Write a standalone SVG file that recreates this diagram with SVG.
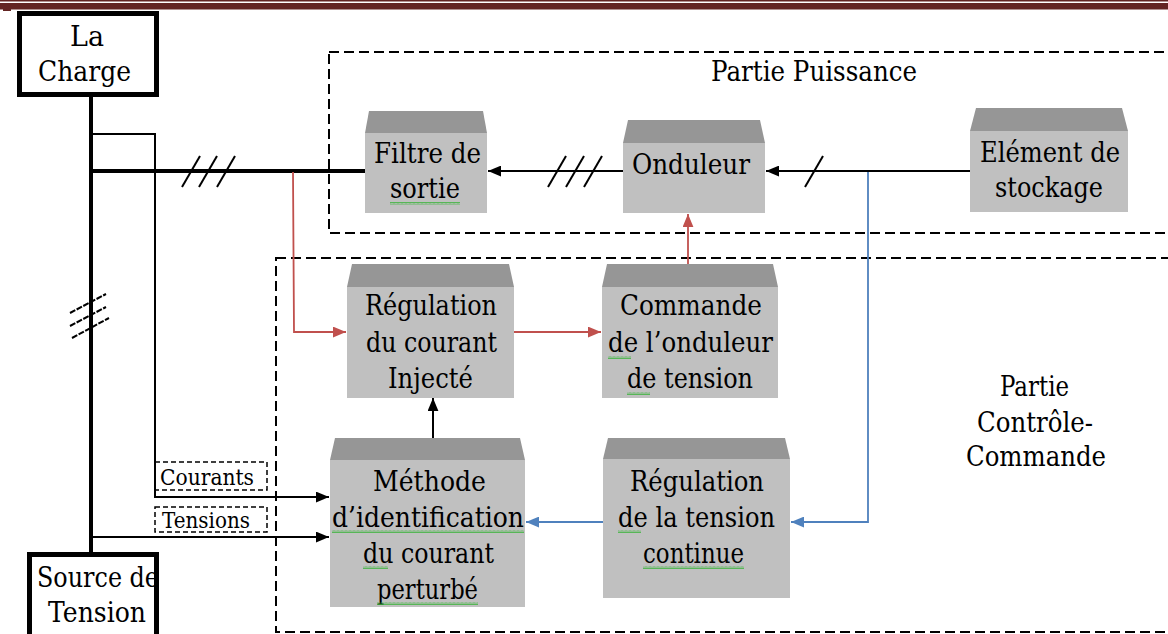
<svg xmlns="http://www.w3.org/2000/svg" width="1168" height="634" viewBox="0 0 1168 634">
<defs>
<style>
text{font-family:"DejaVu Serif","Noto Serif",serif;fill:#000}
.t{font-size:28px}
.s{font-size:22px}
.roof{fill:#969696}
.body{fill:#c0c0c0}
.dash{fill:none;stroke:#000;stroke-width:2;stroke-dasharray:10,5}
.ldash{fill:none;stroke:#000;stroke-width:1.5;stroke-dasharray:5,3}
.thick{fill:none;stroke:#000;stroke-width:4}
.thin{fill:none;stroke:#000;stroke-width:2}
.red{fill:none;stroke:#c0504d;stroke-width:1.8}
.blue{fill:none;stroke:#4f81bd;stroke-width:1.8}
.slash{stroke:#000;stroke-width:2}
.sq{fill:url(#squig)}
</style>
<marker id="ab" viewBox="0 0 12 10" refX="12" refY="5" markerWidth="13" markerHeight="11" markerUnits="userSpaceOnUse" orient="auto"><path d="M0,0 L12,5 L0,10 z" fill="#000"/></marker>
<marker id="ar" viewBox="0 0 12 10" refX="12" refY="5" markerWidth="13" markerHeight="11" markerUnits="userSpaceOnUse" orient="auto"><path d="M0,0 L12,5 L0,10 z" fill="#c0504d"/></marker>
<marker id="abl" viewBox="0 0 12 10" refX="12" refY="5" markerWidth="13" markerHeight="11" markerUnits="userSpaceOnUse" orient="auto"><path d="M0,0 L12,5 L0,10 z" fill="#4f81bd"/></marker>
<pattern id="squig" width="4" height="3" patternUnits="userSpaceOnUse"><path d="M0,2.5 L1,0.5 L2,2.5 L3,0.5 L4,2.5" fill="none" stroke="#3cb43c" stroke-width="0.8"/></pattern>
</defs>
<rect width="1168" height="634" fill="#fff"/>
<rect x="0" y="0" width="1168" height="1.5" fill="#632523"/>
<rect x="0" y="3" width="1168" height="6.5" fill="#632523"/>
<rect x="3" y="9" width="8" height="2" fill="#632523"/>

<g id="partie-puissance">
<rect class="dash" x="329" y="52" width="860" height="181"/>
<text class="t" x="711" y="81" textLength="206" lengthAdjust="spacingAndGlyphs">Partie  Puissance</text>
</g>
<g id="partie-controle">
<rect class="dash" x="276" y="258" width="910" height="374"/>
<text class="t" x="1000" y="396" textLength="69" lengthAdjust="spacingAndGlyphs">Partie</text>
<text class="t" x="977" y="432" textLength="116" lengthAdjust="spacingAndGlyphs">Contrôle-</text>
<text class="t" x="966" y="466" textLength="140" lengthAdjust="spacingAndGlyphs">Commande</text>
</g>

<g id="connectors">
<line class="thick" x1="91" y1="97" x2="91" y2="553"/>
<line class="thick" x1="89" y1="171" x2="366" y2="171"/>
<polyline class="thin" points="91,134 155,134 155,497 329,497" marker-end="url(#ab)"/>
<line class="thin" x1="91" y1="537" x2="329" y2="537" marker-end="url(#ab)"/>
<line class="thin" x1="623" y1="171" x2="488" y2="171" marker-end="url(#ab)"/>
<line class="thin" x1="970" y1="171" x2="766" y2="171" marker-end="url(#ab)"/>
<line class="thin" x1="433" y1="438" x2="433" y2="398" marker-end="url(#ab)"/>
<polyline class="red" points="293,172 294,332 346,332" marker-end="url(#ar)"/>
<line class="red" x1="514" y1="332" x2="601" y2="332" marker-end="url(#ar)"/>
<line class="red" x1="688" y1="265" x2="688" y2="214" marker-end="url(#ar)"/>
<polyline class="blue" points="868,172 868,522 791,522" marker-end="url(#abl)"/>
<line class="blue" x1="603" y1="522" x2="526" y2="522" marker-end="url(#abl)"/>
<line class="slash" x1="182" y1="187" x2="200" y2="156"/>
<line class="slash" x1="199" y1="187" x2="217" y2="156"/>
<line class="slash" x1="217" y1="187" x2="235" y2="156"/>
<line class="slash" x1="548" y1="187" x2="566" y2="156"/>
<line class="slash" x1="566" y1="187" x2="584" y2="156"/>
<line class="slash" x1="584" y1="187" x2="602" y2="156"/>
<line class="slash" x1="805" y1="187" x2="823" y2="156"/>
<line class="slash" x1="70" y1="313" x2="106" y2="294" stroke-dasharray="6,1.5"/>
<line class="slash" x1="70" y1="326" x2="106" y2="307" stroke-dasharray="6,1.5"/>
<line class="slash" x1="72" y1="338" x2="109" y2="318" stroke-dasharray="6,1.5"/>
</g>

<g id="label-courants">
<rect class="ldash" x="155" y="462" width="112" height="28"/>
<text class="s" x="160" y="485" textLength="94" lengthAdjust="spacingAndGlyphs">Courants</text>
</g>
<g id="label-tensions">
<rect class="ldash" x="155" y="507" width="112" height="25"/>
<text class="s" x="162" y="528" textLength="88" lengthAdjust="spacingAndGlyphs">Tensions</text>
</g>

<g id="la-charge">
<rect x="19.5" y="13.5" width="137" height="81" fill="#fff" stroke="#000" stroke-width="5"/>
<text class="t" x="70" y="46" textLength="34" lengthAdjust="spacingAndGlyphs">La</text>
<text class="t" x="38" y="81" textLength="93" lengthAdjust="spacingAndGlyphs">Charge</text>
</g>
<g id="source-tension">
<rect x="29.5" y="554.5" width="127" height="90" fill="#fff" stroke="#000" stroke-width="5"/>
<text class="t" x="37" y="587" textLength="122" lengthAdjust="spacingAndGlyphs">Source de</text>
<text class="t" x="48" y="622" textLength="98" lengthAdjust="spacingAndGlyphs">Tension</text>
</g>

<g id="filtre">
<polygon class="roof" points="369,111 483,111 487,133 365,133"/>
<rect class="body" x="365" y="133" width="122" height="80"/>
<text class="t" x="374" y="163" textLength="107" lengthAdjust="spacingAndGlyphs">Filtre de</text>
<text class="t" x="390" y="198" textLength="70" lengthAdjust="spacingAndGlyphs">sortie</text>
<rect class="sq" x="390" y="202" width="70" height="3"/>
</g>
<g id="onduleur">
<polygon class="roof" points="628,120 760,120 765,143 623,143"/>
<rect class="body" x="623" y="143" width="142" height="70"/>
<text class="t" x="632" y="174" textLength="118" lengthAdjust="spacingAndGlyphs">Onduleur</text>
</g>
<g id="stockage">
<polygon class="roof" points="976,108 1122,108 1128,131 970,131"/>
<rect class="body" x="970" y="131" width="158" height="81"/>
<text class="t" x="980" y="162" textLength="140" lengthAdjust="spacingAndGlyphs">Elément de</text>
<text class="t" x="995" y="197" textLength="108" lengthAdjust="spacingAndGlyphs">stockage</text>
</g>
<g id="regulation-courant">
<polygon class="roof" points="352,264 509,264 514,287 347,287"/>
<rect class="body" x="347" y="287" width="167" height="111"/>
<text class="t" x="365" y="315" textLength="132" lengthAdjust="spacingAndGlyphs">Régulation</text>
<text class="t" x="366" y="352" textLength="131" lengthAdjust="spacingAndGlyphs">du courant</text>
<text class="t" x="388" y="388" textLength="85" lengthAdjust="spacingAndGlyphs">Injecté</text>
</g>
<g id="commande">
<polygon class="roof" points="607,264 773,264 778,287 602,287"/>
<rect class="body" x="602" y="287" width="176" height="111"/>
<text class="t" x="620" y="315" textLength="142" lengthAdjust="spacingAndGlyphs">Commande</text>
<text class="t" x="608" y="352" textLength="165" lengthAdjust="spacingAndGlyphs">de l’onduleur</text>
<text class="t" x="627" y="388" textLength="126" lengthAdjust="spacingAndGlyphs">de tension</text>
<rect class="sq" x="608" y="356" width="23" height="3"/>
<rect class="sq" x="627" y="392" width="23" height="3"/>
</g>
<g id="methode">
<polygon class="roof" points="335,438 520,438 525,460 330,460"/>
<rect class="body" x="330" y="460" width="195" height="147"/>
<text class="t" x="373" y="491" textLength="113" lengthAdjust="spacingAndGlyphs">Méthode</text>
<text class="t" x="332" y="527" textLength="192" lengthAdjust="spacingAndGlyphs">d’identification</text>
<text class="t" x="363" y="563" textLength="131" lengthAdjust="spacingAndGlyphs">du courant</text>
<text class="t" x="377" y="599" textLength="101" lengthAdjust="spacingAndGlyphs">perturbé</text>
<rect class="sq" x="332" y="530" width="192" height="3"/>
<rect class="sq" x="363" y="566" width="25" height="3"/>
<rect class="sq" x="377" y="602" width="101" height="3"/>
</g>
<g id="regulation-tension">
<polygon class="roof" points="608,438 785,438 790,459 603,459"/>
<rect class="body" x="603" y="459" width="187" height="139"/>
<text class="t" x="630" y="491" textLength="134" lengthAdjust="spacingAndGlyphs">Régulation</text>
<text class="t" x="618" y="527" textLength="157" lengthAdjust="spacingAndGlyphs">de la tension</text>
<text class="t" x="643" y="563" textLength="101" lengthAdjust="spacingAndGlyphs">continue</text>
<rect class="sq" x="618" y="530" width="23" height="3"/>
<rect class="sq" x="643" y="566" width="101" height="3"/>
</g>
</svg>
